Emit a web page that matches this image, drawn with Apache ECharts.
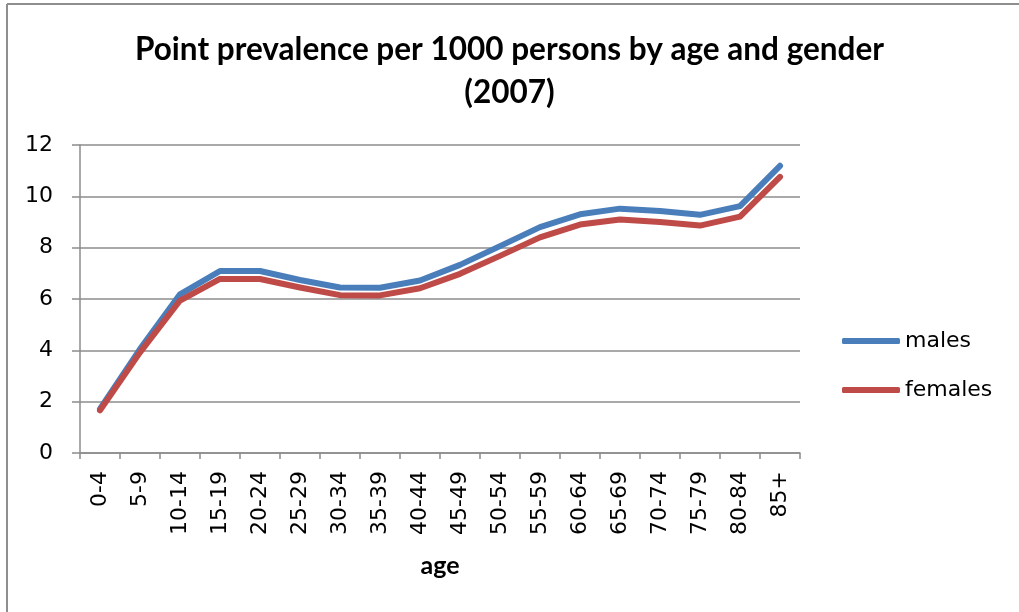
<!DOCTYPE html>
<html>
<head>
<meta charset="utf-8">
<script src="https://cdn.jsdelivr.net/npm/echarts@6/dist/echarts.min.js"></script>
<style>
  html, body { margin: 0; padding: 0; background: #fff; }
  #chart { width: 1019px; height: 612px; }
</style>
</head>
<body>
<div id="chart"></div>
<script>
// Age groups on the category axis
const ageGroups = ['0-4', '5-9', '10-14', '15-19', '20-24', '25-29', '30-34', '35-39', '40-44',
  '45-49', '50-54', '55-59', '60-64', '65-69', '70-74', '75-79', '80-84', '85+'];

// Point prevalence per 1000 persons
const males = [1.72, 4.05, 6.18, 7.09, 7.09, 6.74, 6.45, 6.44, 6.72,
  7.33, 8.06, 8.80, 9.30, 9.52, 9.43, 9.28, 9.62, 11.19];
const females = [1.66, 3.92, 5.94, 6.78, 6.78, 6.45, 6.15, 6.14, 6.42,
  6.98, 7.68, 8.40, 8.90, 9.10, 9.00, 8.86, 9.21, 10.76];

// Value axis ticks
const yTicks = { min: 0, max: 12, interval: 2 };

const titleText = 'Point prevalence per 1000 persons by age and gender\n(2007)';
const xAxisName = 'age';

const chart = echarts.init(document.getElementById('chart'), null, { renderer: 'canvas' });

const gridColor = '#8c8c8c';
const labelFont = 'DejaVu Sans';

chart.setOption({
  backgroundColor: '#ffffff',
  animation: false,
  title: {
    text: titleText,
    left: 'center',
    top: 23,
    textStyle: {
      fontFamily: 'Lato',
      fontWeight: 'bold',
      fontSize: 31.5,
      lineHeight: 43,
      color: '#000'
    }
  },
  legend: {
    orient: 'vertical',
    left: 837,
    top: 324,
    itemGap: 25,
    itemWidth: 58,
    itemHeight: 6,
    icon: 'roundRect',
    textStyle: {
      fontFamily: labelFont,
      fontSize: 22,
      lineHeight: 24,
      color: '#000'
    },
    data: ['males', 'females']
  },
  grid: {
    left: 80,
    right: 219,
    top: 145,
    bottom: 159,
    containLabel: false
  },
  xAxis: {
    type: 'category',
    data: ageGroups,
    boundaryGap: true,
    name: xAxisName,
    nameLocation: 'middle',
    nameGap: 100,
    nameTextStyle: {
      fontFamily: 'Lato',
      fontWeight: 'bold',
      fontSize: 25,
      color: '#000'
    },
    axisLine: { show: true, lineStyle: { color: gridColor, width: 1.5 } },
    axisTick: { show: true, alignWithLabel: false, length: 6, lineStyle: { color: gridColor, width: 1.5 } },
    axisLabel: {
      rotate: 90,
      margin: 18,
      fontFamily: labelFont,
      fontSize: 22,
      color: '#000',
      interval: 0
    },
    splitLine: { show: false }
  },
  yAxis: {
    type: 'value',
    min: yTicks.min,
    max: yTicks.max,
    interval: yTicks.interval,
    axisLine: { show: true, lineStyle: { color: gridColor, width: 1.5 } },
    axisTick: { show: true, length: 8, lineStyle: { color: gridColor, width: 1.5 } },
    axisLabel: {
      margin: 27,
      fontFamily: labelFont,
      fontSize: 22,
      color: '#000'
    },
    splitLine: { show: true, lineStyle: { color: gridColor, width: 1.5 } }
  },
  series: [
    {
      name: 'males',
      type: 'line',
      data: males,
      symbol: 'none',
      lineStyle: { color: '#4a7ebb', width: 6, cap: 'round', join: 'round' },
      itemStyle: { color: '#4a7ebb' }
    },
    {
      name: 'females',
      type: 'line',
      data: females,
      symbol: 'none',
      lineStyle: { color: '#be4b48', width: 6, cap: 'round', join: 'round' },
      itemStyle: { color: '#be4b48' }
    }
  ],
  graphic: [
    // chart area frame along the top and left edges
    { type: 'line', shape: { x1: 7, y1: 4, x2: 1019, y2: 4 }, style: { stroke: '#8e8e8e', lineWidth: 2 } },
    { type: 'line', shape: { x1: 7, y1: 4, x2: 7, y2: 612 }, style: { stroke: '#8e8e8e', lineWidth: 2 } }
  ]
});
</script>
</body>
</html>
